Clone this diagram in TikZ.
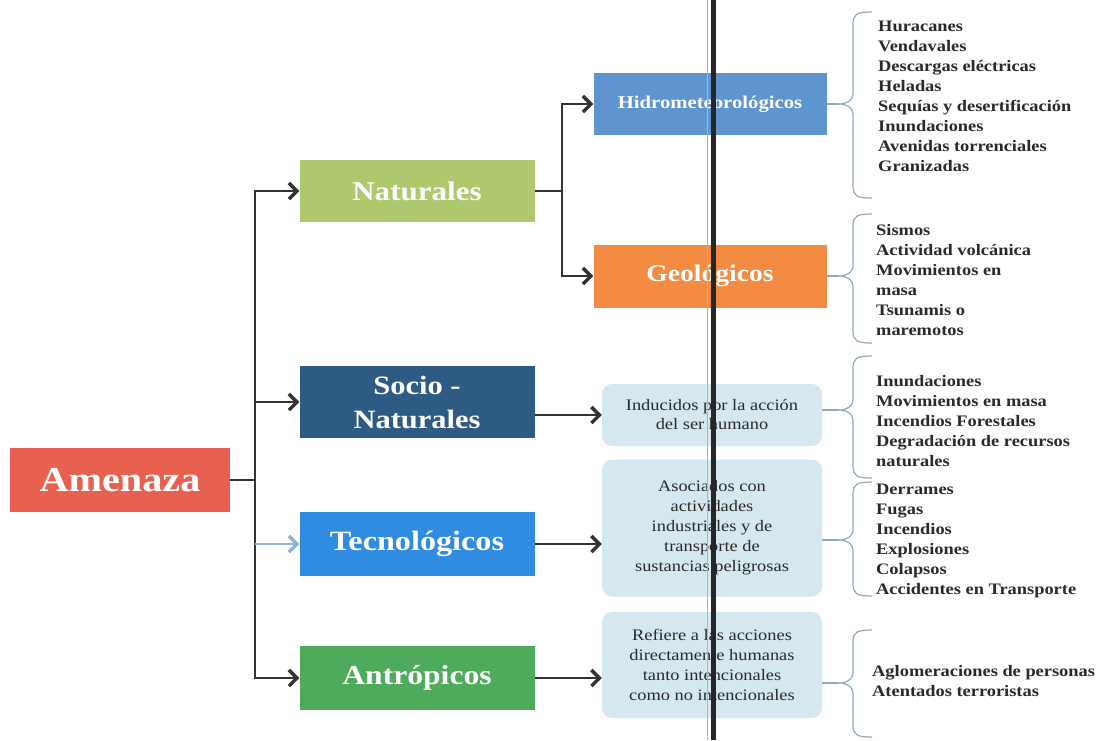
\documentclass[tikz,border=0pt]{standalone}
\usepackage{fontspec}
\setmainfont[FakeStretch=1.15]{Liberation Serif}
\usetikzlibrary{arrows.meta}
\definecolor{cAm}{HTML}{E8604F}
\definecolor{cNat}{HTML}{AFC86E}
\definecolor{cSoc}{HTML}{2E5B84}
\definecolor{cTec}{HTML}{2F8CE0}
\definecolor{cAnt}{HTML}{4EAB5B}
\definecolor{cHid}{HTML}{5E95CF}
\definecolor{cGeo}{HTML}{F38B43}
\definecolor{cLight}{HTML}{D5E7EF}
\definecolor{cBrace}{HTML}{8FA9C4}
\definecolor{cLine}{HTML}{333333}
\definecolor{cTecArr}{HTML}{8FB4D8}
\definecolor{cTxt}{HTML}{2A2A2A}
\tikzset{
  catbox/.style={rectangle, fill=#1, text=white, font=\bfseries, inner sep=0pt, align=center},
  lightbox/.style={rectangle, rounded corners=10pt, fill=cLight, text=cTxt, inner sep=0pt, align=center,
    minimum width=220pt, font=\fontsize{16}{20}\selectfont},
  conn/.style={draw=cLine, line width=2pt, -{Straight Barb[length=8pt,width=16pt,line width=3.4pt]}},
  plain/.style={draw=cLine, line width=2pt},
  bracestyle/.style={draw=cBrace, line width=1.2pt},
  listtext/.style={anchor=north west, inner sep=0pt, align=left, text=cTxt,
    font=\bfseries\fontsize{16}{20}\selectfont},
}
\newcommand\mybrace[5]{% name, x, top, tip, bottom
  \coordinate (#1) at ({#2-14},#4);
  \draw[bracestyle] ({#2+19},#3) .. controls ({#2+4},#3) and (#2,{#3+2}) .. (#2,{#3+12})
    -- (#2,{#4-10}) .. controls (#2,{#4-4}) and ({#2-6},#4) .. ({#2-14},#4)
    .. controls ({#2-6},#4) and (#2,{#4+4}) .. (#2,{#4+10})
    -- (#2,{#5-12}) .. controls (#2,{#5-2}) and ({#2+4},#5) .. ({#2+19},#5);
}
\begin{document}
\begin{tikzpicture}[x=1pt,y=-1pt]
\useasboundingbox[fill=white] (0,0) rectangle (1101,740);

% main boxes
\node[catbox=cAm, minimum width=220pt, minimum height=64pt, font=\bfseries\fontsize{35}{38}\selectfont] (am) at (120,480) {Amenaza};
\node[catbox=cNat, minimum width=235pt, minimum height=62pt, font=\bfseries\fontsize{27}{30}\selectfont] (nat) at (417,191) {Naturales};
\node[catbox=cSoc, minimum width=235pt, minimum height=72pt, font=\bfseries\fontsize{26.5}{34}\selectfont] (soc) at (417,402) {Socio -\\Naturales};
\node[catbox=cTec, minimum width=235pt, minimum height=64pt, font=\bfseries\fontsize{28}{30}\selectfont] (tec) at (417,544) {Tecnológicos};
\node[catbox=cAnt, minimum width=235pt, minimum height=64pt, font=\bfseries\fontsize{27.5}{30}\selectfont] (ant) at (417,678) {Antrópicos};
\node[catbox=cHid, minimum width=233pt, minimum height=62pt, font=\bfseries\fontsize{18}{20}\selectfont] (hid) at (710,104) {Hidrometeorológicos};
\node[catbox=cGeo, minimum width=233pt, minimum height=63pt, font=\bfseries\fontsize{24}{28}\selectfont] (geo) at (710,276) {Geológicos};

% light boxes
\node[lightbox, minimum height=62pt, font=\fontsize{16}{19}\selectfont] (ind) at (712,415) {Inducidos por la acción\\del ser humano};
\node[lightbox, minimum height=137pt] (aso) at (712,528) {Asociados con\\actividades\\industriales y de\\transporte de\\sustancias peligrosas};
\node[lightbox, minimum height=106pt] (ref) at (712,665) {Refiere a las acciones\\directamente humanas\\tanto intencionales\\como no intencionales};

% trunk connectors
\coordinate (trk) at (255,0);
\coordinate (trk2) at (562,0);
\draw[plain] (am.east) -- (am.east -| trk);
\draw[conn] (am.east -| trk) |- (nat.west);
\draw[conn] (am.east -| trk) |- (ant.west);
\draw[conn] (soc.west -| trk) -- (soc.west);
\draw[conn, draw=cTecArr] (tec.west -| trk) -- (tec.west);
\draw[plain] (nat.east) -- (nat.east -| trk2);
\draw[conn] (nat.east -| trk2) |- (hid.west);
\draw[conn] (nat.east -| trk2) |- (geo.west);
\draw[conn] (soc.east |- ind.west) -- (ind.west);
\draw[conn] (tec.east) -- (tec.east -| aso.west);
\draw[conn] (ant.east) -- (ant.east -| ref.west);

% braces
\mybrace{bh}{853}{12}{104}{198}
\mybrace{bg}{853}{214}{276}{343}
\mybrace{bs}{853}{356}{410}{478}
\mybrace{bt}{853}{482}{540}{596}
\mybrace{ba}{853}{630}{683}{737}
\draw[bracestyle] (hid.east) -- (bh);
\draw[bracestyle] (geo.east) -- (bg);
\draw[bracestyle] (ind.east |- bs) -- (bs);
\draw[bracestyle] (aso.east |- bt) -- (bt);
\draw[bracestyle] (ref.east |- ba) -- (ba);

% lists
\node[listtext] (lh) at (878,21) {Huracanes\\Vendavales\\Descargas eléctricas\\Heladas\\Sequías y desertificación\\Inundaciones\\Avenidas torrenciales\\Granizadas};
\node[listtext] (lg) at (876,224) {Sismos\\Actividad volcánica\\Movimientos en\\masa\\Tsunamis o\\maremotos};
\node[listtext] (ls) at (876,375) {Inundaciones\\Movimientos en masa\\Incendios Forestales\\Degradación de recursos\\naturales};
\node[listtext] (lt) at (876,484) {Derrames\\Fugas\\Incendios\\Explosiones\\Colapsos\\Accidentes en Transporte};
\node[listtext] (la) at (872,665) {Aglomeraciones de personas\\Atentados terroristas};

% scan line
\fill[gray!60] (706.5,0) rectangle (708,740);
\fill[black!85] (711,0) rectangle (716,740);
\end{tikzpicture}
\end{document}
